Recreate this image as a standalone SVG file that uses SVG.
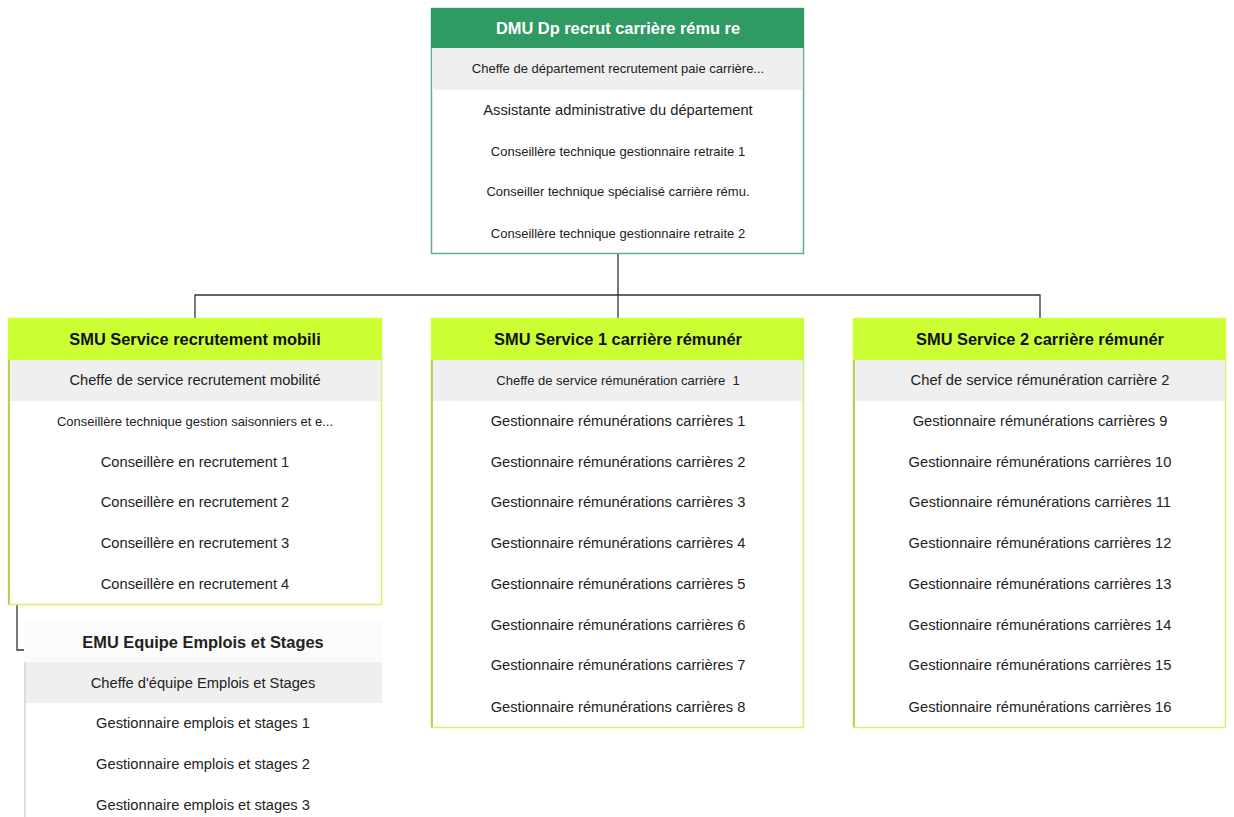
<svg xmlns="http://www.w3.org/2000/svg" width="1234" height="817" viewBox="0 0 1234 817">
  <style>
    .hd { font-family: "Liberation Sans", Arial, sans-serif; font-weight: bold; font-size: 16.4px; text-anchor: middle; }
    .r { font-family: "Liberation Sans", Arial, sans-serif; font-size: 14.7px; fill: #222; text-anchor: middle; }
    .s { font-family: "Liberation Sans", Arial, sans-serif; font-size: 13px; fill: #222; text-anchor: middle; }
    .lead { fill: #efefef; }
    .link { fill: none; stroke: #333; stroke-width: 1.3; }
  </style>
  <rect width="1234" height="817" fill="#ffffff"/>

  <g id="connectors">
    <path class="link" d="M618 254 V295 M195 318 V295 H1040 V318 M618 295 V318"/>
    <path class="link" d="M17 605 V650 H24"/>
  </g>

  <g id="dmu">
    <rect x="431.5" y="8.5" width="372" height="245" fill="#fff" stroke="#5fae8c" stroke-width="1.5"/>
    <rect x="431" y="8" width="373" height="40" fill="#2f9a64"/>
    <text class="hd" x="618" y="34" fill="#ffffff">DMU Dp recrut carrière rému re</text>
    <rect class="lead" x="432" y="48" width="371" height="42"/>
    <text class="s" x="618" y="73">Cheffe de département recrutement paie carrière...</text>
    <text class="r" x="618" y="115">Assistante administrative du département</text>
    <text class="s" x="618" y="156">Conseillère technique gestionnaire retraite 1</text>
    <text class="s" x="618" y="196">Conseiller technique spécialisé carrière rému.</text>
    <text class="s" x="618" y="238">Conseillère technique gestionnaire retraite 2</text>
  </g>

  <g id="smu-recrutement">
    <rect x="8.5" y="318.5" width="373" height="286" fill="#fff" stroke="#d4f36a" stroke-width="1.5"/>
    <line x1="9" y1="360" x2="9" y2="604" stroke="#a9c04a" stroke-width="1.5"/>
    <rect x="8" y="318" width="374" height="42" fill="#ccff33"/>
    <text class="hd" x="195" y="345" fill="#111">SMU Service recrutement mobili</text>
    <rect class="lead" x="10" y="360" width="371" height="41"/>
    <text class="r" x="195" y="385">Cheffe de service recrutement mobilité</text>
    <text class="s" x="195" y="426">Conseillère technique gestion saisonniers et e...</text>
    <text class="r" x="195" y="467">Conseillère en recrutement 1</text>
    <text class="r" x="195" y="507">Conseillère en recrutement 2</text>
    <text class="r" x="195" y="548">Conseillère en recrutement 3</text>
    <text class="r" x="195" y="589">Conseillère en recrutement 4</text>
  </g>

  <g id="smu-service-1">
    <rect x="431.5" y="318.5" width="372" height="409" fill="#fff" stroke="#d4f36a" stroke-width="1.5"/>
    <line x1="432" y1="360" x2="432" y2="727" stroke="#a9c04a" stroke-width="1.5"/>
    <rect x="431" y="318" width="373" height="42" fill="#ccff33"/>
    <text class="hd" x="618" y="345" fill="#111">SMU Service 1 carrière rémunér</text>
    <rect class="lead" x="433" y="360" width="370" height="41"/>
    <text class="s" x="618" y="385" xml:space="preserve">Cheffe de service rémunération carrière  1</text>
    <text class="r" x="618" y="426">Gestionnaire rémunérations carrières 1</text>
    <text class="r" x="618" y="467">Gestionnaire rémunérations carrières 2</text>
    <text class="r" x="618" y="507">Gestionnaire rémunérations carrières 3</text>
    <text class="r" x="618" y="548">Gestionnaire rémunérations carrières 4</text>
    <text class="r" x="618" y="589">Gestionnaire rémunérations carrières 5</text>
    <text class="r" x="618" y="630">Gestionnaire rémunérations carrières 6</text>
    <text class="r" x="618" y="670">Gestionnaire rémunérations carrières 7</text>
    <text class="r" x="618" y="712">Gestionnaire rémunérations carrières 8</text>
  </g>

  <g id="smu-service-2">
    <rect x="853.5" y="318.5" width="372" height="409" fill="#fff" stroke="#d4f36a" stroke-width="1.5"/>
    <line x1="854" y1="360" x2="854" y2="727" stroke="#a9c04a" stroke-width="1.5"/>
    <rect x="853" y="318" width="373" height="42" fill="#ccff33"/>
    <text class="hd" x="1040" y="345" fill="#111">SMU Service 2 carrière rémunér</text>
    <rect class="lead" x="855" y="360" width="370" height="41"/>
    <text class="r" x="1040" y="385">Chef de service rémunération carrière 2</text>
    <text class="r" x="1040" y="426">Gestionnaire rémunérations carrières 9</text>
    <text class="r" x="1040" y="467">Gestionnaire rémunérations carrières 10</text>
    <text class="r" x="1040" y="507">Gestionnaire rémunérations carrières 11</text>
    <text class="r" x="1040" y="548">Gestionnaire rémunérations carrières 12</text>
    <text class="r" x="1040" y="589">Gestionnaire rémunérations carrières 13</text>
    <text class="r" x="1040" y="630">Gestionnaire rémunérations carrières 14</text>
    <text class="r" x="1040" y="670">Gestionnaire rémunérations carrières 15</text>
    <text class="r" x="1040" y="712">Gestionnaire rémunérations carrières 16</text>
  </g>

  <g id="emu-emplois-stages">
    <rect x="24" y="620" width="358" height="42" fill="#fbfbfb"/>
    <rect x="24" y="662" width="358" height="160" fill="#fff"/>
    <line x1="25" y1="662" x2="25" y2="817" stroke="#d0d0d0" stroke-width="1.5"/>
    <text class="hd" x="203" y="648" fill="#222">EMU Equipe Emplois et Stages</text>
    <rect class="lead" x="26" y="662" width="356" height="41"/>
    <text class="r" x="203" y="688">Cheffe d'équipe Emplois et Stages</text>
    <text class="r" x="203" y="728">Gestionnaire emplois et stages 1</text>
    <text class="r" x="203" y="769">Gestionnaire emplois et stages 2</text>
    <text class="r" x="203" y="810">Gestionnaire emplois et stages 3</text>
  </g>
</svg>
